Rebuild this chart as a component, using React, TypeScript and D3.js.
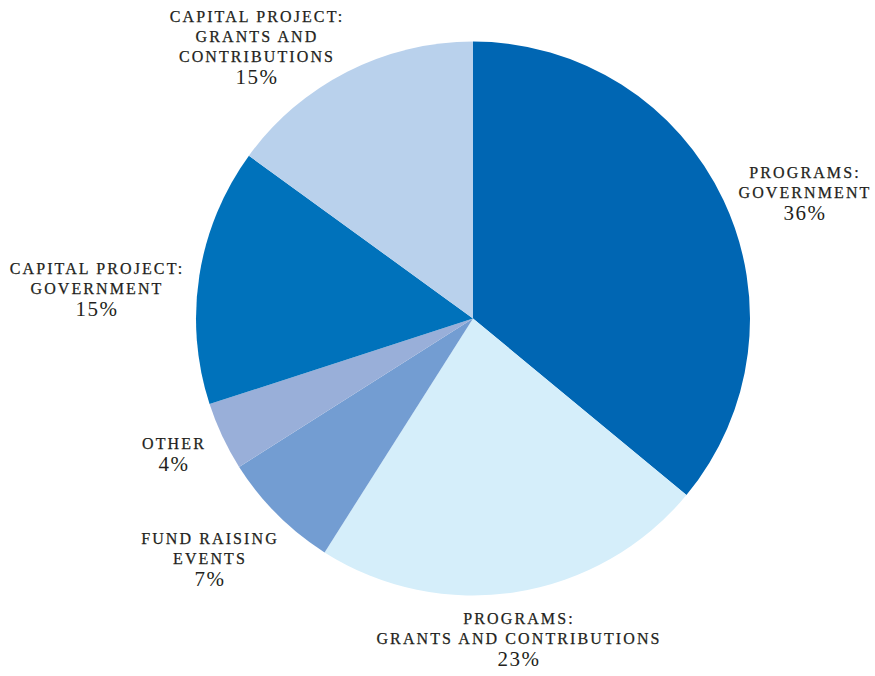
import React from "react";
import * as d3 from "d3";

const categories = [
  "Programs: Government",
  "Programs: Grants and Contributions",
  "Fund Raising Events",
  "Other",
  "Capital Project: Government",
  "Capital Project: Grants and Contributions",
];
const values = [36, 23, 7, 4, 15, 15];
const colors = ["#0066b3", "#d5eefa", "#739dd2", "#99afd9", "#0072bb", "#b9d1ec"];
const labelLines = [
  ["PROGRAMS:", "GOVERNMENT"],
  ["PROGRAMS:", "GRANTS AND CONTRIBUTIONS"],
  ["FUND RAISING", "EVENTS"],
  ["OTHER"],
  ["CAPITAL PROJECT:", "GOVERNMENT"],
  ["CAPITAL PROJECT:", "GRANTS AND", "CONTRIBUTIONS"],
];
const percentLabels = ["36%", "23%", "7%", "4%", "15%", "15%"];
// label anchor (center x, first baseline y)
const labelPos: [number, number][] = [
  [805, 178],
  [519, 624],
  [210, 544],
  [174, 449],
  [97, 274],
  [257, 22],
];

export default function App() {
  const width = 875;
  const height = 676;
  const cx = 473;
  const cy = 318.5;
  const r = 277;
  const pie = d3.pie<number>().sort(null).value((d) => d)(values);
  const arc = d3.arc<d3.PieArcDatum<number>>().innerRadius(0).outerRadius(r);
  const font = "'Liberation Serif', 'Times New Roman', serif";
  return (
    <svg
      width={width}
      height={height}
      style={{ position: "absolute", left: 0, top: 0, background: "#fff" }}
    >
      <g transform={`translate(${cx},${cy})`}>
        {pie.map((p, i) => (
          <path key={categories[i]} d={arc(p) || ""} fill={colors[i]} />
        ))}
      </g>
      {labelLines.map((lines, i) => {
        const [x, y] = labelPos[i];
        return (
          <text key={i} x={x} y={y} textAnchor="middle" fill="#231f20" fontFamily={font}>
            {lines.map((l, j) => (
              <tspan
                key={j}
                x={x}
                dy={j === 0 ? 0 : 20}
                fontSize={16}
                letterSpacing={2.1}
                stroke="#231f20"
                strokeWidth={0.25}
              >
                {l}
              </tspan>
            ))}
            <tspan x={x} dy={22} fontSize={21} letterSpacing={1.5}>
              {percentLabels[i]}
            </tspan>
          </text>
        );
      })}
    </svg>
  );
}
